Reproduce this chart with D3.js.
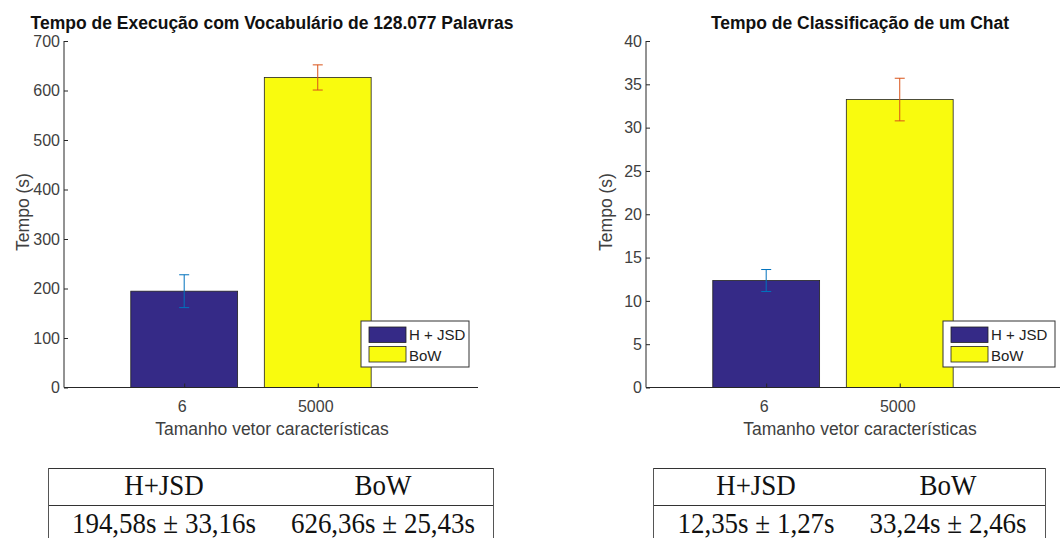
<!DOCTYPE html>
<meta charset="utf-8">
<head>
<title>Tempo de Execução</title>
</head>
<style>
  body { margin: 0; background: #fff; }
  .ticktext { fill: #404040; font: 16px "Liberation Sans", Arial, sans-serif; }
  .axlabel { fill: #404040; font: 17.5px "Liberation Sans", Arial, sans-serif; }
  .title { fill: #111; font: bold 17.5px "Liberation Sans", Arial, sans-serif; }
  .legtext { fill: #222; font: 15px "Liberation Sans", Arial, sans-serif; }
  .tabtext { fill: #111; font: 30px "Liberation Serif", "Times New Roman", serif; }
</style>
<body>
<svg width="1060" height="538"></svg>

<script src="https://d3js.org/d3.v7.min.js"></script>
<script>

// data
var categories = ["6", "5000"];
var series = ["H + JSD", "BoW"];

var execMeans = [194.58, 626.36];
var execErrs  = [33.16, 25.43];
var execTicks = [0, 100, 200, 300, 400, 500, 600, 700];

var chatMeans = [12.35, 33.24];
var chatErrs  = [1.27, 2.46];
var chatTicks = [0, 5, 10, 15, 20, 25, 30, 35, 40];

var tableHeader = ["H+JSD", "BoW"];
var execRow = ["194,58s \u00b1 33,16s", "626,36s \u00b1 25,43s"];
var chatRow = ["12,35s \u00b1 1,27s", "33,24s \u00b1 2,46s"];

var barColors = ["#352a87", "#f9fb0e"];
var errColors = ["#0072bd", "#d95319"];

var svg = d3.select("svg");

function drawChart(opt) {
  var g = svg.append("g");
  var x0 = opt.left, x1 = opt.left + 414;
  var yTop = 41, yBot = 387.5;

  var x = d3.scaleLinear().domain([0.1, 3.2]).range([x0, x1]);
  var y = d3.scaleLinear().domain([0, d3.max(opt.ticks)]).range([yBot, yTop]);
  var bw = x(1.8) - x(1);

  // bars
  g.selectAll(".bar")
    .data(opt.means)
    .enter().append("rect")
      .attr("x", function(d, i) { return x(i + 1) - bw / 2; })
      .attr("y", function(d) { return y(d); })
      .attr("width", bw)
      .attr("height", function(d) { return yBot - y(d); })
      .attr("fill", function(d, i) { return barColors[i]; })
      .attr("stroke", "#222")
      .attr("stroke-width", 0.8);

  // error bars
  var eb = g.selectAll(".err")
    .data(opt.means)
    .enter().append("g")
      .attr("stroke", function(d, i) { return errColors[i]; })
      .attr("stroke-width", 1);
  eb.append("line")
    .attr("x1", function(d, i) { return x(i + 1); })
    .attr("x2", function(d, i) { return x(i + 1); })
    .attr("y1", function(d, i) { return y(d - opt.errs[i]); })
    .attr("y2", function(d, i) { return y(d + opt.errs[i]); });
  eb.append("line")
    .attr("x1", function(d, i) { return x(i + 1) - 5; })
    .attr("x2", function(d, i) { return x(i + 1) + 5; })
    .attr("y1", function(d, i) { return y(d + opt.errs[i]); })
    .attr("y2", function(d, i) { return y(d + opt.errs[i]); });
  eb.append("line")
    .attr("x1", function(d, i) { return x(i + 1) - 5; })
    .attr("x2", function(d, i) { return x(i + 1) + 5; })
    .attr("y1", function(d, i) { return y(d - opt.errs[i]); })
    .attr("y2", function(d, i) { return y(d - opt.errs[i]); });

  // y axis
  var yAxis = g.append("g")
    .attr("transform", "translate(" + x0 + ",0)")
    .call(d3.axisRight(y).tickValues(opt.ticks).tickSize(4).tickFormat(""));
  yAxis.select(".domain").attr("stroke", "#262626").attr("d", "M0," + yTop + "V" + yBot);
  yAxis.selectAll(".tick line").attr("stroke", "#262626");

  g.selectAll(".ytick")
    .data(opt.ticks)
    .enter().append("text")
      .attr("class", "ticktext")
      .attr("x", x0 - 4)
      .attr("y", function(d) { return y(d); })
      .attr("dy", "0.36em")
      .attr("text-anchor", "end")
      .text(function(d) { return d; });

  // x axis
  var xAxis = g.append("g")
    .attr("transform", "translate(0," + yBot + ")")
    .call(d3.axisTop(x).tickValues([1, 2]).tickSize(4).tickFormat(""));
  xAxis.select(".domain").attr("stroke", "#262626").attr("d", "M" + x0 + ",0H" + x1);
  xAxis.selectAll(".tick line").attr("stroke", "#262626");

  g.selectAll(".xtick")
    .data(categories)
    .enter().append("text")
      .attr("class", "ticktext")
      .attr("x", function(d, i) { return x(i + 1) - 2; })
      .attr("y", 412)
      .attr("text-anchor", "middle")
      .text(function(d) { return d; });

  g.append("text")
    .attr("class", "axlabel")
    .attr("x", opt.labelX)
    .attr("y", 435)
    .attr("text-anchor", "middle")
    .text("Tamanho vetor características");

  g.append("text")
    .attr("class", "axlabel")
    .attr("transform", "translate(" + opt.yLabelX + ",212) rotate(-90)")
    .attr("text-anchor", "middle")
    .text("Tempo (s)");

  g.append("text")
    .attr("class", "title")
    .attr("x", opt.titleX)
    .attr("y", 29)
    .attr("text-anchor", "middle")
    .text(opt.title);

  // legend
  var lx = x0 + 297;
  g.append("rect")
    .attr("x", lx).attr("y", 321)
    .attr("width", opt.legW).attr("height", 46)
    .attr("fill", "#fff").attr("stroke", "#333").attr("stroke-width", 1);
  var leg = g.selectAll(".leg")
    .data(series)
    .enter().append("g");
  leg.append("rect")
    .attr("x", lx + 8)
    .attr("y", function(d, i) { return 327 + i * 19.5; })
    .attr("width", 37).attr("height", 15.5)
    .attr("fill", function(d, i) { return barColors[i]; })
    .attr("stroke", "#222").attr("stroke-width", 0.8);
  leg.append("text")
    .attr("class", "legtext")
    .attr("x", lx + 48)
    .attr("y", function(d, i) { return 340 + i * 21; })
    .text(function(d) { return d; });
}

function drawTable(opt, row) {
  var t = svg.append("g");
  var l = opt.tabL, r = opt.tabR;
  t.append("line").attr("x1", l).attr("x2", r).attr("y1", 468.5).attr("y2", 468.5).attr("stroke", "#333");
  t.append("line").attr("x1", l).attr("x2", r).attr("y1", 505.5).attr("y2", 505.5).attr("stroke", "#333");
  t.append("line").attr("x1", l + 0.5).attr("x2", l + 0.5).attr("y1", 468).attr("y2", 538).attr("stroke", "#555");
  t.append("line").attr("x1", r + 0.5).attr("x2", r + 0.5).attr("y1", 468).attr("y2", 538).attr("stroke", "#555");

  var cells = [];
  tableHeader.forEach(function(h, i) { cells.push({ t: h, x: opt.colX[i], y: 495 }); });
  row.forEach(function(h, i) { cells.push({ t: h, x: opt.colX[i], y: 533 }); });
  t.selectAll(".tab")
    .data(cells)
    .enter().append("text")
      .attr("class", "tabtext")
      .attr("text-anchor", "middle")
      .attr("transform", function(d) { return "translate(" + d.x + "," + d.y + ") scale(0.9,1)"; })
      .text(function(d) { return d.t; });
}

var leftOpt = {
  left: 64, ticks: execTicks, means: execMeans, errs: execErrs,
  title: "Tempo de Execução com Vocabulário de 128.077 Palavras",
  titleX: 272, labelX: 272, yLabelX: 29, legW: 108,
  tabL: 48, tabR: 493, colX: [164, 383]
};
var rightOpt = {
  left: 646, ticks: chatTicks, means: chatMeans, errs: chatErrs,
  title: "Tempo de Classificação de um Chat",
  titleX: 860, labelX: 860, yLabelX: 612, legW: 112,
  tabL: 653, tabR: 1045, colX: [756, 948]
};

drawChart(leftOpt);
drawChart(rightOpt);
drawTable(leftOpt, execRow);
drawTable(rightOpt, chatRow);

</script>
</body>
